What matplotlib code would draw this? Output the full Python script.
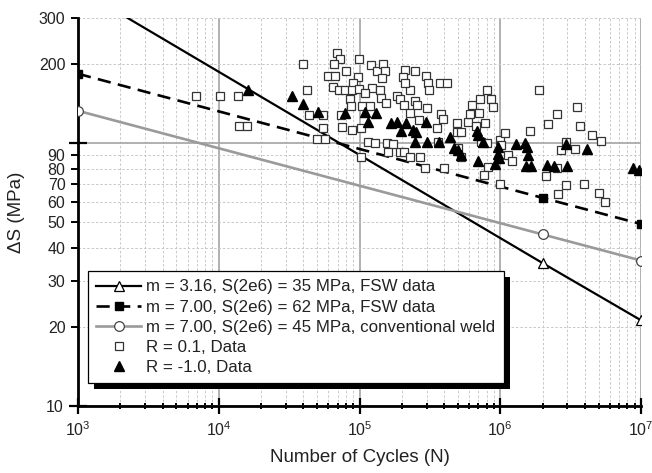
import matplotlib
matplotlib.use("Agg")
import matplotlib.pyplot as plt
from matplotlib.patches import Rectangle
from matplotlib.transforms import IdentityTransform

plt.rcParams['font.family'] = ['Liberation Sans', 'DejaVu Sans']
plt.rcParams['mathtext.default'] = 'regular'

# ---- S-N design curves (N, stress range) ----
curve_N = [1e3, 2e6, 1e7]
fsw_m316_S = [388, 35, 21.2]     # m = 3.16, S(2e6) = 35 MPa
fsw_m7_S = [184, 62, 49.3]       # m = 7.00, S(2e6) = 62 MPa
conv_m7_S = [133, 45, 35.8]      # m = 7.00, S(2e6) = 45 MPa

curve_labels = ["m = 3.16, S(2e6) = 35 MPa, FSW data",
                "m = 7.00, S(2e6) = 62 MPa, FSW data",
                "m = 7.00, S(2e6) = 45 MPa, conventional weld"]

# ---- R = 0.1 data ----
r01_N = [6.9e3, 1.02e4, 1.36e4, 1.39e4, 1.58e4, 4.0e4, 4.26e4, 4.40e4, 5.50e4, 5.53e4,
         4.97e4, 5.69e4, 5.93e4, 6.69e4, 6.89e4, 7.30e4, 6.64e4, 9.9e4, 1.20e5, 1.34e5,
         1.48e5, 1.52e5, 1.44e5, 8.01e4, 9.8e4, 8.99e4, 6.53e4, 7.14e4, 7.89e4, 8.80e4,
         9.97e4, 1.22e5, 1.40e5, 1.09e5, 8.63e4, 8.77e4, 1.43e5, 1.54e5, 1.05e5, 1.19e5,
         2.11e5, 2.46e5, 2.05e5, 2.98e5, 3.07e5, 2.28e5, 2.09e5, 3.12e5, 3.76e5, 4.17e5,
         1.85e5, 1.94e5, 2.48e5, 2.55e5, 2.07e5, 2.28e5, 3.0e5, 2.65e5, 3.81e5, 3.94e5,
         3.53e5, 4.91e5, 4.91e5, 5.26e5, 5.89e5, 6.27e5, 7.13e5, 8.01e5, 8.57e5, 8.92e5,
         7.05e5, 6.10e5, 7.83e5, 6.69e5, 7.35e4, 7.46e4, 8.85e4, 1.03e5, 1.15e5, 1.29e5,
         1.56e5, 1.74e5, 1.60e5, 1.93e5, 2.07e5, 2.30e5, 2.69e5, 1.025e5, 2.92e5, 4.0e5,
         5.29e5, 3.63e5, 4.99e5, 7.30e5, 8.11e5, 8.22e5, 7.62e5, 1.0e6, 1.02e6, 1.08e6,
         1.135e6, 1.21e6, 1.0e6, 1.90e6, 1.63e6, 2.19e6, 2.55e6, 3.49e6, 3.66e6, 4.52e6,
         5.18e6, 2.92e6, 2.70e6, 3.40e6, 2.11e6, 2.54e6, 2.91e6, 3.93e6, 2.57e6, 5.05e6,
         5.55e6]
r01_S = [151, 151, 151, 116, 116, 200, 160, 128, 128, 114,
         104, 104, 180, 180, 220, 210, 200, 209, 199, 189,
         200, 189, 178, 189, 179, 170, 164, 160, 160, 160,
         161, 163, 160, 155, 147, 139, 149, 142, 139, 139,
         190, 189, 179, 180, 169, 159, 169, 159, 169, 170,
         151, 148, 145, 140, 140, 131, 136, 123, 129, 124,
         114, 120, 110, 110, 121, 140, 148, 159, 148, 138,
         130, 129, 119, 116, 128, 115, 112, 114, 101, 100,
         100, 99.4, 92.3, 92.7, 92.7, 88.4, 88.4, 88.9, 80.9, 80.3,
         88.9, 101, 95.7, 101, 100, 81.4, 75.7, 103, 98.5, 109,
         90.6, 85.8, 69.9, 160, 111, 118, 129, 138, 116, 108,
         102, 101, 94.3, 94.9, 75.2, 80.5, 69.7, 70.2, 64.3, 64.8,
         59.7]

# ---- R = -1.0 data ----
rm1_N = [1.61e4, 3.34e4, 3.94e4, 5.05e4, 7.94e4, 1.10e5, 1.31e5, 1.15e5, 1.67e5, 1.86e5,
         2.14e5, 1.96e5, 2.41e5, 2.52e5, 2.97e5, 2.48e5, 3.04e5, 3.68e5, 4.37e5, 4.71e5,
         5.04e5, 5.28e5, 6.80e5, 6.98e5, 7.54e5, 6.95e5, 9.25e5, 9.63e5, 9.71e5, 9.79e5,
         1.30e6, 1.49e6, 1.56e6, 1.58e6, 1.52e6, 1.66e6, 2.14e6, 2.42e6, 2.97e6, 2.93e6,
         4.12e6, 8.81e6, 9.70e6]
rm1_S = [160, 152, 141, 132, 130, 132, 131, 121, 120, 121,
         120, 111, 112, 110, 121, 101, 101, 101, 106, 96.4,
         94, 90.6, 111, 108, 101, 85.6, 83.3, 97, 91.3, 87.7,
         99, 100, 97, 90.4, 81.7, 81.7, 82.8, 81.8, 82.0, 99.4,
         95.5, 80.7, 78.9]

x_major = [1e3, 1e4, 1e5, 1e6, 1e7]
x_major_labels = [r'$10^{3}$', r'$10^{4}$', r'$10^{5}$', r'$10^{6}$', r'$10^{7}$']
y_major = [10, 100]
y_major_labels = ['10', '']
y_minor = [20, 30, 40, 50, 60, 70, 80, 90, 200, 300]
y_minor_labels = ['20', '30', '40', '50', '60', '70', '80', '90', '200', '300']

fig = plt.figure(figsize=(6.52, 4.73), dpi=100)
ax = fig.add_axes([78/652, 1 - 406/473, (641 - 78)/652, (406 - 18)/473])
ax.set_xscale('log')
ax.set_yscale('log')
ax.set_xlim(1e3, 1e7)
ax.set_ylim(10, 300)

# ticks
ax.set_xticks(x_major, x_major_labels)
x_minor = [m * d for d in [1e3, 1e4, 1e5, 1e6] for m in range(2, 10)]
ax.set_xticks(x_minor, minor=True)
ax.set_yticks(y_major, y_major_labels)
ax.set_yticks(y_minor, y_minor_labels, minor=True)

ax.tick_params(axis='x', which='major', direction='inout', length=11, width=1.6,
               labelsize=11.5, pad=5, colors='black')
ax.tick_params(axis='x', which='minor', direction='inout', length=5, width=1.4,
               labelbottom=False)
ax.tick_params(axis='y', which='major', direction='inout', length=13, width=1.6,
               labelsize=11.5, pad=4)
ax.tick_params(axis='y', which='minor', direction='out', length=5, width=1.4,
               labelsize=11.5, pad=4)
for lab in ax.get_xticklabels() + ax.get_yticklabels(which='both'):
    lab.set_color('#222222')

# grid
ax.grid(which='major', color='#aaaaaa', linestyle='-', linewidth=1.3)
ax.grid(which='minor', color='#c8c8c8', linestyle=(0, (2.5, 2)), linewidth=0.7)
ax.set_axisbelow(True)

for s in ['top', 'right']:
    ax.spines[s].set_visible(False)
for s in ['left', 'bottom']:
    ax.spines[s].set_linewidth(2.0)

# curves
ax.plot(curve_N, fsw_m316_S, color='black', lw=1.6, marker='^', ms=7,
        mfc='white', mec='black', mew=0.9, label=curve_labels[0], zorder=3)
ax.plot(curve_N, fsw_m7_S, color='black', lw=1.9, linestyle=(0, (5, 2.8)),
        marker='s', ms=6, mfc='black', mec='black', label=curve_labels[1], zorder=3)
ax.plot(curve_N, conv_m7_S, color='#9a9a9a', lw=1.9, marker='o', ms=7,
        mfc='white', mec='#444444', mew=0.9, label=curve_labels[2], zorder=3)

# data
ax.plot(r01_N, r01_S, linestyle='none', marker='s', ms=6.2, mfc='white',
        mec='#333333', mew=0.9, label='R = 0.1, Data', zorder=4)
ax.plot(rm1_N, rm1_S, linestyle='none', marker='^', ms=7.5, mfc='black',
        mec='black', label='R = -1.0, Data', zorder=4)

ax.set_xlabel('Number of Cycles (N)', fontsize=13.5, labelpad=7, color='#222222')
ax.set_ylabel('ΔS (MPa)', fontsize=13.5, labelpad=10, color='#222222')

leg = ax.legend(loc='upper left', bbox_to_anchor=(0.0178, 0.348), borderaxespad=0,
                fontsize=12.2, frameon=True, fancybox=False, framealpha=1,
                edgecolor='black', numpoints=1, handlelength=2.6,
                handletextpad=0.35, labelspacing=0.3, borderpad=0.5)
leg.get_frame().set_linewidth(0.9)
leg.set_zorder(10)
for t in leg.get_texts():
    t.set_color('#222222')

fig.canvas.draw()
bb = leg.get_window_extent()
shadow = Rectangle((bb.x0 + 6, bb.y0 - 6), bb.width, bb.height,
                   transform=IdentityTransform(), facecolor='black',
                   edgecolor='none', zorder=9.5, clip_on=False)
ax.add_patch(shadow)

fig.savefig('out.png', dpi=100)
